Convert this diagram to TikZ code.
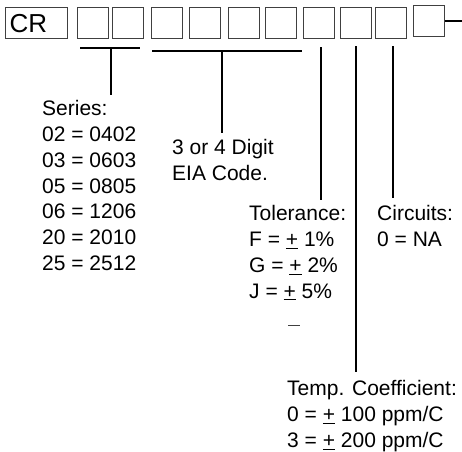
\documentclass[tikz,border=0pt]{standalone}
\usepackage{fontspec}
\setmainfont{Liberation Sans}
\usepackage{tikz}
\usetikzlibrary{positioning}
\definecolor{boxline}{rgb}{0.25,0.25,0.25}
\tikzset{
  digit/.style={draw=boxline, line width=1pt, minimum width=31pt, minimum height=31pt, inner sep=0pt},
  legend/.style={anchor=north west, align=left, inner sep=0pt, font=\fontsize{21}{25.7}\selectfont},
  lead/.style={line width=1.6pt}
}
\begin{document}
\begin{tikzpicture}[x=1pt, y=-1pt]
    \useasboundingbox (0,0) rectangle (462,451);
    % Part number boxes
    \node[digit, minimum width=62pt, anchor=north west] (cr) at (5,7) {};
    \node[anchor=west, inner sep=0pt, font=\fontsize{26}{26}\selectfont] (crtext) at (9.5,24) {CR};
    \foreach \i/\x in {1/92.5,2/127.5,3/166.5,4/205,5/244,6/281,7/319,8/355.5,9/391}
        \node[digit] (b\i) at (\x,22.5) {};
    \node[digit] (b10) at (429,21) {};
    \draw[line width=1.6pt] (b10.east) -- ++(17,0);
    % Brackets
    \coordinate (s1) at (111,48);
    \coordinate (s2) at (222,51);
    \draw[lead] (80,48) -- (140,48);
    \draw[lead] (152,51) -- (302,51);
    % Legends
    \node[legend] (series) at (42,100.5) {Series:\\02 = 0402\\03 = 0603\\05 = 0805\\06 = 1206\\20 = 2010\\25 = 2512};
    \node[legend] (eia) at (172,139) {3 or 4 Digit\\EIA Code.};
    \node[legend] (tol) at (249,205.5) {Tolerance:\\F = \underline{+} 1\%\\G = \underline{+} 2\%\\J = \underline{+} 5\%};
    \node[legend] (circ) at (377,205.5) {Circuits:\\0 = NA};
    \node[legend] (temp) at (287,380.5) {Temp. Coefficient:\\0 = \underline{+} 100 ppm/C\\3 = \underline{+} 200 ppm/C};
    % Leaders
    \draw[lead] (s1) -- (111,95);
    \draw[lead] (s2) -- (222,133);
    \draw[lead] (321,47) -- (321,200);
    \draw[lead] (356,46) -- (356,372);
    \draw[lead] (393,46) -- (393,198);
    \draw[boxline, line width=0.8pt] (288,325) -- (300,325);
\end{tikzpicture}
\end{document}
